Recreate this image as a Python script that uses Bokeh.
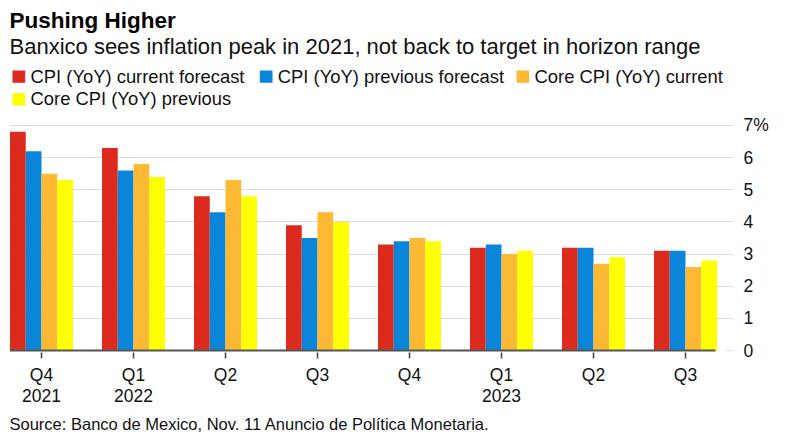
from bokeh.plotting import figure
from bokeh.layouts import column
from bokeh.models import Range1d, LinearAxis, FixedTicker, ColumnDataSource
from bokeh.transform import dodge
from bokeh.embed import file_html
from bokeh.resources import INLINE
from bokeh.core.properties import value

# ---------------- data ----------------
quarters = ["Q4", "Q1", "Q2", "Q3", "Q4", "Q1", "Q2", "Q3"]
years = ["2021", "2022", "", "", "", "2023", "", ""]
cpi_current = [6.8, 6.3, 4.8, 3.9, 3.3, 3.2, 3.2, 3.1]
cpi_previous = [6.2, 5.6, 4.3, 3.5, 3.4, 3.3, 3.2, 3.1]
core_current = [5.5, 5.8, 5.3, 4.3, 3.5, 3.0, 2.7, 2.6]
core_previous = [5.3, 5.4, 4.8, 4.0, 3.4, 3.1, 2.9, 2.8]
series_names = ["CPI (YoY) current forecast", "CPI (YoY) previous forecast",
                "Core CPI (YoY) current", "Core CPI (YoY) previous"]
y_ticks = [0, 1, 2, 3, 4, 5, 6, 7]

title_text = "Pushing Higher"
subtitle_text = "Banxico sees inflation peak in 2021, not back to target in horizon range"
source_text = "Source: Banco de Mexico, Nov. 11 Anuncio de Política Monetaria."

# ---------------- style ----------------
colors = ["#dc2a1e", "#0a85d9", "#fdb933", "#ffff00"]
FONT = "Liberation Sans"
TXT = "#111111"
W = 790
LEFT, RIGHT = 9, 733            # frame edges (page px) shared by all three figures
HEAD_H = 113
MAIN_TOP, FRAME_H, MAIN_BOT = 10, 229, 58
MAIN_H = MAIN_TOP + FRAME_H + MAIN_BOT
FOOT_H = 434 - HEAD_H - MAIN_H
BAR_W = 0.1712
DY = -6                          # baseline correction for text glyphs


def blank_fig(h):
    f = figure(width=W, height=h, output_backend="svg", toolbar_location=None, title=None,
               x_range=Range1d(LEFT, RIGHT), y_range=Range1d(h, 0),
               min_border_left=LEFT, min_border_right=W - RIGHT,
               min_border_top=0, min_border_bottom=0,
               x_axis_location=None, y_axis_location=None, outline_line_color=None)
    f.xgrid.visible = False
    f.ygrid.visible = False
    return f


# ---------------- header ----------------
head = blank_fig(HEAD_H)
head.text(x=[9], y=[25.5 + DY], text=[title_text], text_font=value(FONT), text_font_style="bold",
          text_font_size="22.5px", text_color="#000000", text_baseline="alphabetic")
head.text(x=[9], y=[51.7 + DY], text=[subtitle_text], text_font=value(FONT),
          text_font_size="22px", text_color=TXT, text_baseline="alphabetic")
leg_x = [12, 259.3, 516, 12]
leg_y = [82.3, 82.3, 82.3, 105]
head.quad(left=leg_x, right=[v + 12.7 for v in leg_x], bottom=leg_y,
          top=[v - 12.4 for v in leg_y], fill_color=colors, line_color=None)
head.text(x=[v + 18 for v in leg_x], y=[v - 0.6 + DY for v in leg_y], text=series_names,
          text_font=value(FONT), text_font_size="18.4px", text_color=TXT,
          text_baseline="alphabetic")

# ---------------- main chart ----------------
idx = list(range(len(quarters)))
src = ColumnDataSource(dict(x=idx, s0=cpi_current, s1=cpi_previous, s2=core_current, s3=core_previous))

p = figure(width=W, height=MAIN_H, output_backend="svg", toolbar_location=None, title=None,
           x_range=Range1d(-0.3478, 7.5217), y_range=Range1d(-0.06, 7.06),
           min_border_left=LEFT, min_border_right=W - RIGHT, min_border_top=MAIN_TOP,
           min_border_bottom=MAIN_BOT,
           x_axis_location=None, y_axis_location=None, outline_line_color=None)
p.xgrid.visible = False
p.ygrid.ticker = FixedTicker(ticks=y_ticks[1:])
p.ygrid.grid_line_color = "#dcdcdc"
p.ygrid.grid_line_width = 1

for k, col in enumerate(["s0", "s1", "s2", "s3"]):
    p.vbar(x=dodge("x", (k - 1.5) * BAR_W), top=col, bottom=0, width=BAR_W,
           source=src, fill_color=colors[k], line_color=None)

# baseline and zero tick
p.segment(x0=[-0.3478], y0=[0], x1=[7.326], y1=[0], line_color="#555555", line_width=2)
p.segment(x0=[7.435], y0=[0], x1=[7.5217], y1=[0], line_color="#dcdcdc", line_width=1)

yax = LinearAxis(ticker=FixedTicker(ticks=y_ticks),
                 major_label_overrides={7: "7%"},
                 axis_line_color=None, major_tick_line_color=None,
                 major_tick_out=0, major_tick_in=0, minor_tick_line_color=None,
                 major_label_standoff=10,
                 major_label_text_font_size="17.5px",
                 major_label_text_font=FONT, major_label_text_color=TXT)
p.add_layout(yax, "right")

xax = LinearAxis(ticker=FixedTicker(ticks=idx),
                 major_label_overrides={i: q for i, q in enumerate(quarters)},
                 axis_line_color=None, major_tick_line_color="#444444",
                 major_tick_line_width=1.5, major_tick_out=6, major_tick_in=0,
                 minor_tick_line_color=None, major_label_standoff=6,
                 major_label_text_font_size="17.5px",
                 major_label_text_font=FONT, major_label_text_color=TXT)
p.add_layout(xax, "below")
year_ticks = [i for i, yv in enumerate(years) if yv]
yrax = LinearAxis(ticker=FixedTicker(ticks=year_ticks),
                  major_label_overrides={i: years[i] for i in year_ticks},
                  axis_line_color=None, major_tick_line_color=None,
                  major_tick_out=0, major_tick_in=0, minor_tick_line_color=None,
                  major_label_standoff=1,
                  major_label_text_font_size="17.5px",
                  major_label_text_font=FONT, major_label_text_color=TXT)
p.add_layout(yrax, "below")

# ---------------- footer ----------------
foot = blank_fig(FOOT_H)
foot.text(x=[9], y=[429 + DY - (HEAD_H + MAIN_H)], text=[source_text], text_font=value(FONT),
          text_font_size="16.5px", text_color=TXT, text_baseline="alphabetic")

layout = column(head, p, foot, spacing=0)
open("out.html", "w").write(file_html(layout, INLINE))
